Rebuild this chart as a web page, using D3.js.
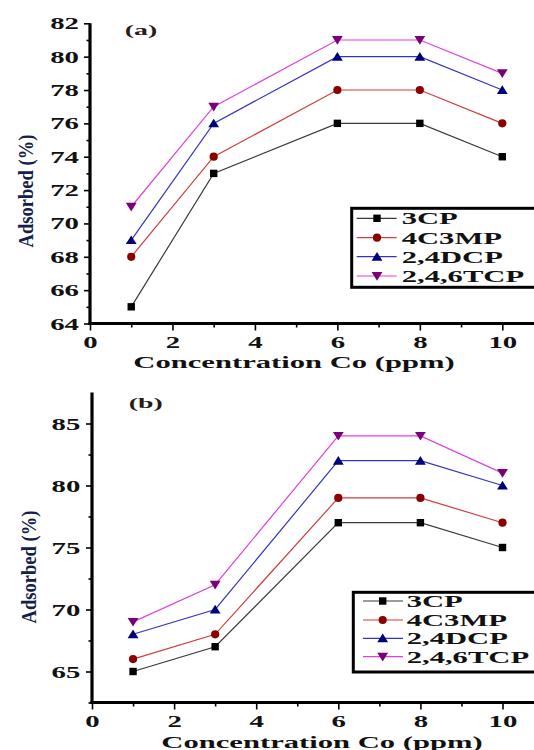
<!DOCTYPE html>
<html><head><meta charset="utf-8">
<script src="https://cdn.jsdelivr.net/npm/d3@7"></script>
<style>body{margin:0;background:#fff}svg{display:block}</style>
</head><body>
<svg id="c" width="534" height="750"></svg>
<script>
// ---- data ----
const concentrations = [1, 3, 6, 8, 10];
const seriesNames = ["3CP", "4C3MP", "2,4DCP", "2,4,6TCP"];
const panelA_3CP   = [65, 73, 76, 76, 74];
const panelA_4C3MP = [68, 74, 78, 78, 76];
const panelA_24DCP = [69, 76, 80, 80, 78];
const panelA_246TCP= [71, 77, 81, 81, 79];
const panelB_3CP   = [65, 67, 77, 77, 75];
const panelB_4C3MP = [66, 68, 79, 79, 77];
const panelB_24DCP = [68, 70, 82, 82, 80];
const panelB_246TCP= [69, 72, 84, 84, 81];
const xTicks = [0, 2, 4, 6, 8, 10];
const xMinorTicks = [1, 3, 5, 7, 9];
const yTicksA = [64, 66, 68, 70, 72, 74, 76, 78, 80, 82];
const yMinorA = [65, 67, 69, 71, 73, 75, 77, 79, 81];
const yTicksB = [65, 70, 75, 80, 85];
const yMinorB = [62.5, 67.5, 72.5, 77.5, 82.5];

// ---- styles ----
const lineColors = ["#3a3a3a", "#d23c3c", "#3434c4", "#e040e0"];
const markColors = ["#000000", "#8b0000", "#00007a", "#7a007a"];
const shapes = ["square", "circle", "up", "down"];
const FONT = "'Liberation Serif','Times New Roman',serif";
const SX = 1.8;

const svg = d3.select("#c");

function marker(g, shape, x, y, color) {
  if (shape === "square") {
    g.append("rect").attr("x", x - 3.7).attr("y", y - 3.7).attr("width", 7.4).attr("height", 7.4).attr("fill", color);
  } else if (shape === "circle") {
    g.append("circle").attr("cx", x).attr("cy", y).attr("r", 4.1).attr("fill", color);
  } else if (shape === "up") {
    g.append("path").attr("d", `M${x-5.4},${y+4}L${x+5.4},${y+4}L${x},${y-4.7}Z`).attr("fill", color);
  } else {
    g.append("path").attr("d", `M${x-5.4},${y-4}L${x+5.4},${y-4}L${x},${y+4.7}Z`).attr("fill", color);
  }
}

function panel(cfg) {
  const { data, x, y, yTicks, yMinor, xAxisEnd, label, labelPos, titlePos, yLabelPos, legend } = cfg;
  const g = svg.append("g");
  const x0 = x.range()[0];
  const yBottom = y.range()[0], yTop = y.range()[1];

  const ya = d3.axisLeft(y).tickValues(yTicks).tickSize(6).tickFormat(d3.format("d"));
  const yg = g.append("g").attr("transform", `translate(${x0},0)`).call(ya);
  const yam = d3.axisLeft(y).tickValues(yMinor).tickSize(3.5).tickFormat("");
  const ygm = g.append("g").attr("transform", `translate(${x0},0)`).call(yam);
  const xa = d3.axisBottom(x).tickValues(xTicks).tickSize(7).tickFormat(d3.format("d"));
  const xg = g.append("g").attr("transform", `translate(0,${yBottom})`).call(xa);
  const xam = d3.axisBottom(x).tickValues(xMinorTicks).tickSize(4).tickFormat("");
  const xgm = g.append("g").attr("transform", `translate(0,${yBottom})`).call(xam);
  [yg, ygm, xg, xgm].forEach(s => {
    s.select(".domain").remove();
    s.selectAll("line").attr("stroke", "#000").attr("stroke-width", 1.6);
  });
  yg.selectAll("text").attr("x", null).attr("dy", null)
    .attr("transform", `translate(${cfg.yLabOff},5.5) scale(${SX},1)`)
    .attr("text-anchor", "end").attr("font-family", FONT).attr("font-weight", "bold")
    .attr("font-size", 16).attr("fill", "#111");
  xg.selectAll("text").attr("y", null).attr("dy", null)
    .attr("transform", `translate(0,${cfg.xLabOff}) scale(${SX},1)`)
    .attr("text-anchor", "middle").attr("font-family", FONT).attr("font-weight", "bold")
    .attr("font-size", 16).attr("fill", "#111");

  g.append("line").attr("x1", x0).attr("x2", x0).attr("y1", yTop).attr("y2", yBottom + 1.5)
    .attr("stroke", "#000").attr("stroke-width", 3.2);
  g.append("line").attr("x1", x0 - 1.6).attr("x2", xAxisEnd).attr("y1", yBottom).attr("y2", yBottom)
    .attr("stroke", "#000").attr("stroke-width", 3.2);

  const line = d3.line().x((d, i) => x(concentrations[i])).y(d => y(d));
  data.forEach((vals, s) => {
    g.append("path").attr("d", line(vals)).attr("fill", "none")
      .attr("stroke", lineColors[s]).attr("stroke-width", 1.2);
  });
  data.forEach((vals, s) => {
    vals.forEach((v, i) => marker(g, shapes[s], x(concentrations[i]), y(v), markColors[s]));
  });

  g.append("text").attr("transform", `translate(${labelPos[0]},${labelPos[1]}) scale(${SX},1)`)
    .attr("text-anchor", "middle").attr("font-family", FONT).attr("font-weight", "bold")
    .attr("font-size", 15.5).attr("fill", "#2a1c14").text(label);

  g.append("text").attr("transform", `translate(${titlePos[0]},${titlePos[1]}) scale(${SX},1)`)
    .attr("text-anchor", "middle").attr("font-family", FONT).attr("font-weight", "bold")
    .attr("font-size", 17).attr("fill", "#111").text("Concentration Co (ppm)");

  g.append("text").attr("transform", `translate(${yLabelPos[0]},${yLabelPos[1]}) rotate(-90) scale(1,1.15)`)
    .attr("text-anchor", "middle").attr("font-family", FONT).attr("font-weight", "bold")
    .attr("font-size", 19).attr("textLength", 113).attr("lengthAdjust", "spacingAndGlyphs")
    .attr("fill", "#13204a").text("Adsorbed (%)");

  const L = legend;
  g.append("rect").attr("x", L.x).attr("y", L.y).attr("width", 200).attr("height", L.h)
    .attr("fill", "#fff").attr("stroke", "#000").attr("stroke-width", 3);
  seriesNames.forEach((name, s) => {
    const cy = L.rows[s];
    g.append("line").attr("x1", L.l1).attr("x2", L.l2).attr("y1", cy).attr("y2", cy)
      .attr("stroke", lineColors[s]).attr("stroke-width", 1.2);
    marker(g, shapes[s], L.m, cy, markColors[s]);
    g.append("text").attr("transform", `translate(${L.t},${cy + 5.8}) scale(${SX},1)`)
      .attr("font-family", FONT).attr("font-weight", "bold").attr("font-size", 17)
      .attr("fill", "#111").text(name);
  });
}

panel({
  data: [panelA_3CP, panelA_4C3MP, panelA_24DCP, panelA_246TCP],
  x: d3.scaleLinear().domain([0, 10]).range([90, 502.3]),
  y: d3.scaleLinear().domain([64, 82]).range([323.5, 23.3]),
  yTicks: yTicksA, yMinor: yMinorA, xAxisEnd: 534,
  yLabOff: -11, xLabOff: 24.5,
  label: "(a)", labelPos: [141, 35],
  titlePos: [294, 368],
  yLabelPos: [33, 191],
  legend: { x: 351.7, y: 208.3, h: 79, rows: [218.3, 237.7, 256.7, 276], l1: 356.7, l2: 396.7, m: 377, t: 401.7 }
});

panel({
  data: [panelB_3CP, panelB_4C3MP, panelB_24DCP, panelB_246TCP],
  x: d3.scaleLinear().domain([0, 10]).range([92, 502.5]),
  y: d3.scaleLinear().domain([62.5, 87.5]).range([702.5, 392.5]),
  yTicks: yTicksB, yMinor: yMinorB, xAxisEnd: 534,
  yLabOff: -11.7, xLabOff: 24,
  label: "(b)", labelPos: [145.7, 408],
  titlePos: [322, 748],
  yLabelPos: [36, 567],
  legend: { x: 353.3, y: 592.3, h: 79.7, rows: [601, 620, 638.3, 656.7], l1: 363, l2: 403, m: 382.7, t: 406.7 }
});
</script>
</body></html>
